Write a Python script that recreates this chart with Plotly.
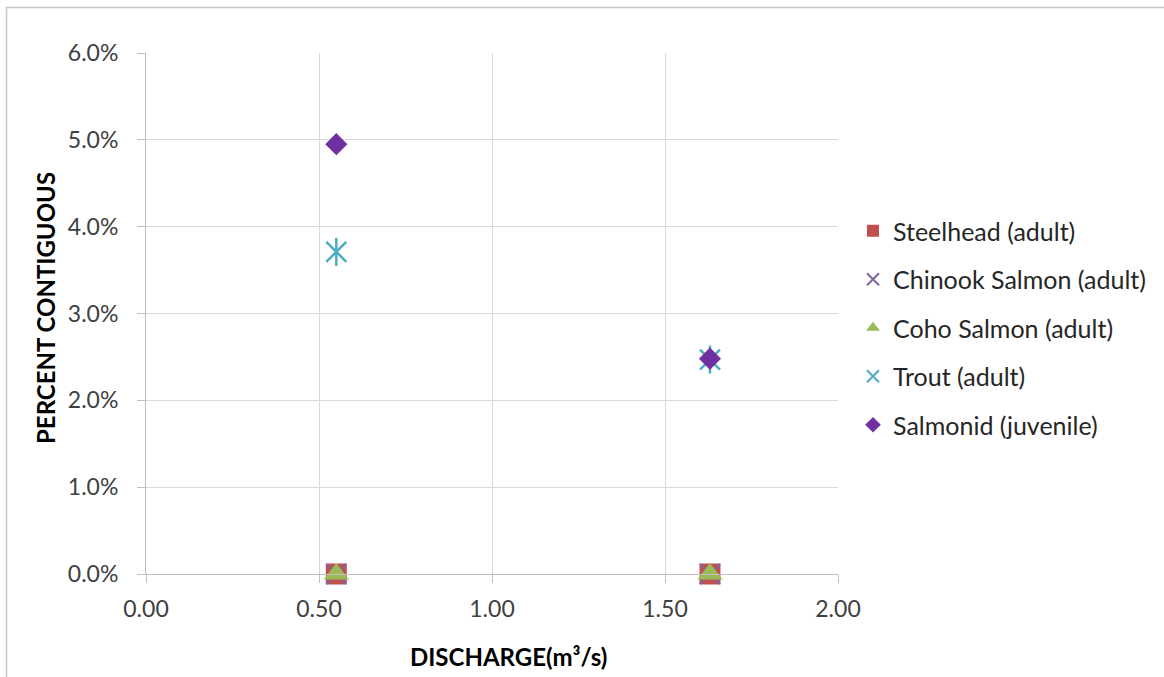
import plotly.graph_objects as go

# Discharge values (m³/s) at which habitat was evaluated
discharge = [0.55, 1.63]

# Percent contiguous habitat per species / life stage (fraction)
steelhead_adult = [0.0, 0.0]
chinook_adult = [0.0, 0.0]
coho_adult = [0.0, 0.0]
trout_adult = [0.0371, 0.0247]
salmonid_juvenile = [0.0495, 0.0248]

x_ticks = [0.0, 0.5, 1.0, 1.5, 2.0]
y_ticks = [0.0, 0.01, 0.02, 0.03, 0.04, 0.05, 0.06]

FONT = "Lato, Calibri, Carlito, sans-serif"
TEXT_COLOR = "#404040"

# plot area in pixels
W, H = 1164, 677
L, R, T, B = 146, 838, 53, 574


def px_x(px):
    return (px - L) / (R - L)


def px_y(py):
    return (B - py) / (B - T)


fig = go.Figure()

common = dict(mode="markers", cliponaxis=False, hoverinfo="x+y")

fig.add_trace(go.Scatter(
    x=discharge, y=steelhead_adult, name="Steelhead (adult)", legendgroup="g1",
    marker=dict(symbol="square", size=21, color="#C0504D"), **common))
fig.add_trace(go.Scatter(
    x=discharge, y=chinook_adult, name="Chinook Salmon (adult)", legendgroup="g2",
    marker=dict(symbol="x-thin-open", size=20, color="#8064A2",
                line=dict(color="#8064A2", width=2)), **common))
fig.add_trace(go.Scatter(
    x=discharge, y=coho_adult, name="Coho Salmon (adult)", legendgroup="g3",
    marker=dict(symbol="triangle-up", size=22, color="#9BBB59"), **common))
# trout star: diagonal cross plus vertical stroke
fig.add_trace(go.Scatter(
    x=discharge, y=trout_adult, name="Trout (adult)", legendgroup="g4",
    marker=dict(symbol="x-thin-open", size=20, color="#4BACC6",
                line=dict(color="#4BACC6", width=2.5)), **common))
fig.add_trace(go.Scatter(
    x=discharge, y=trout_adult, name="Trout (adult)", legendgroup="g4", showlegend=False,
    marker=dict(symbol="line-ns-open", size=20, color="#4BACC6",
                line=dict(color="#4BACC6", width=2.5)), **common))
fig.add_trace(go.Scatter(
    x=discharge, y=salmonid_juvenile, name="Salmonid (juvenile)", legendgroup="g5",
    marker=dict(symbol="diamond", size=17, color="#7030A0"), **common))

axis_common = dict(
    showgrid=True, gridcolor="#D9D9D9", gridwidth=1,
    showline=True, linecolor="#BFBFBF", linewidth=1,
    ticks="outside", ticklen=8, tickcolor="#BFBFBF",
    tickfont=dict(family=FONT, size=23, color=TEXT_COLOR),
    zeroline=False, fixedrange=True,
)

fig.update_xaxes(range=[0, 2], tickvals=x_ticks, tickformat=".2f",
                 ticklabelstandoff=6, **axis_common)
fig.update_yaxes(range=[0, 0.06], tickvals=y_ticks, tickformat=".1%",
                 ticklabelstandoff=14, **axis_common)

fig.update_layout(
    width=W, height=H,
    margin=dict(l=L, r=W - R, t=T, b=H - B, pad=0),
    paper_bgcolor="white", plot_bgcolor="white",
    font=dict(family=FONT, size=20, color=TEXT_COLOR),
    showlegend=True,
    legend=dict(
        x=px_x(853), y=px_y(208), xanchor="left", yanchor="top",
        traceorder="grouped", tracegroupgap=13,
        font=dict(family=FONT, size=25, color="#262626"),
        itemsizing="constant", bgcolor="rgba(0,0,0,0)",
    ),
    annotations=[
        dict(text="<b>DISCHARGE(m³/s)</b>", xref="paper", yref="paper",
             x=px_x(508), y=px_y(656), xanchor="center", yanchor="middle",
             showarrow=False, font=dict(family=FONT, size=24, color="#000000")),
        dict(text="<b>PERCENT CONTIGUOUS</b>", xref="paper", yref="paper",
             x=px_x(45), y=px_y(308), xanchor="center", yanchor="middle",
             textangle=-90, showarrow=False,
             font=dict(family=FONT, size=24, color="#000000")),
    ],
    shapes=[
        dict(type="line", xref="paper", yref="paper",
             x0=px_x(6), x1=px_x(1164), y0=px_y(7.5), y1=px_y(7.5),
             line=dict(color="#C8C8C8", width=1.5)),
        dict(type="line", xref="paper", yref="paper",
             x0=px_x(6.5), x1=px_x(6.5), y0=px_y(7), y1=px_y(677),
             line=dict(color="#C8C8C8", width=1.5)),
    ],
)

fig.write_html("out.html")
